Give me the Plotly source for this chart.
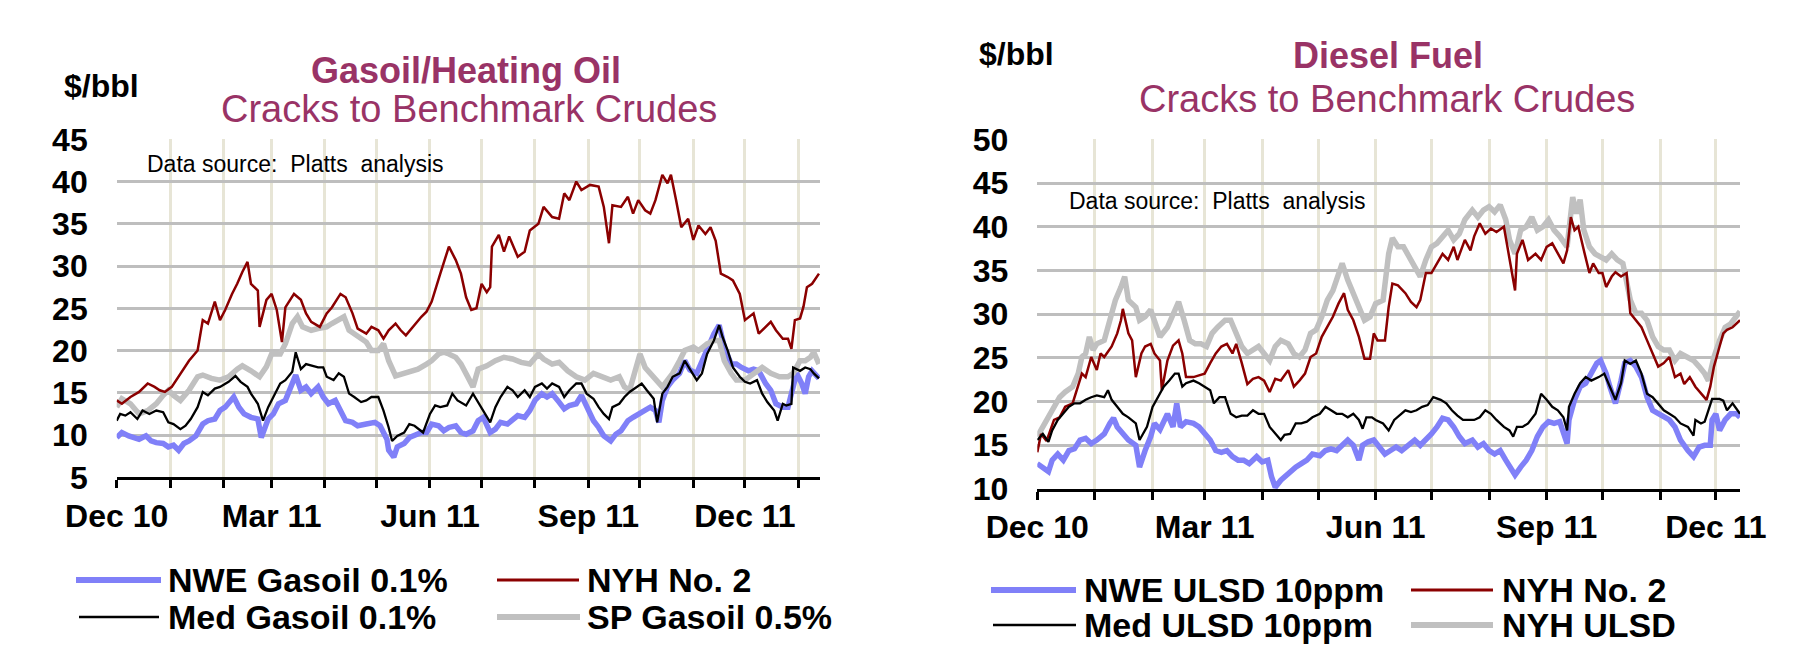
import pandas as pd
import plotly.graph_objects as go

# ---------------- DATA ----------------
START = "2010-12-01"
LEFT_END_DAY = 408.6
RIGHT_END_DAY = 378

LEFT_TITLE = "Gasoil/Heating Oil"
RIGHT_TITLE = "Diesel Fuel"
SUBTITLE = "Cracks to Benchmark Crudes"
UNIT = "$/bbl"
SOURCE = "Data source:\u00a0 Platts\u00a0 analysis"

left_names = ["NWE Gasoil 0.1%", "NYH No. 2", "Med Gasoil 0.1%", "SP Gasoil 0.5%"]
right_names = ["NWE ULSD 10ppm", "NYH No. 2", "Med ULSD 10ppm", "NYH ULSD"]

# Left chart (days since 1 Dec 2010, $/bbl)
gas_nyh2_day = [0,3,8,13,18,22,25,28,32,37,42,47,50,53,57,60,63,67,70,73,76,78,82,83,87,90,93,96,98,103,107,110,113,118,122,125,130,133,137,140,145,148,152,155,158,162,165,168,172,177,180,183,188,193,197,200,203,206,209,212,215,217,218,222,225,228,233,237,240,245,248,253,257,260,263,267,270,275,280,283,286,288,293,297,300,303,307,310,313,317,320,322,325,328,332,335,338,342,345,348,351,355,358,362,365,370,373,377,380,383,387,390,392,394,397,399,401,404,408]
gas_nyh2_val = [14.1,13.7,14.5,15.1,16.1,15.7,15.3,15.1,15.7,17.3,18.8,20.0,23.6,23.2,25.8,23.6,24.8,26.7,27.9,29.3,30.5,27.9,27.1,22.8,26.0,26.7,24.8,21.0,25.1,26.7,26.0,24.4,23.4,22.8,24.4,25.1,26.7,26.3,24.4,22.6,22.0,22.8,22.4,21.4,22.4,23.2,22.4,21.8,22.8,24.0,24.6,25.8,29.1,32.3,30.7,29.1,26.3,24.8,25.0,27.9,26.9,27.5,32.3,33.7,31.7,33.5,31.1,31.7,34.2,35.0,37.0,35.8,35.6,38.6,37.8,40.0,39.0,39.6,39.4,37.0,32.7,37.2,37.0,38.2,36.2,37.8,36.6,36.2,37.8,40.8,39.8,40.8,37.8,34.6,35.6,33.1,34.8,33.8,34.6,33.0,29.1,28.7,28.3,26.7,23.6,24.4,22.0,22.8,23.4,22.4,21.4,21.4,20.2,23.6,23.8,25.2,27.5,27.9,29.1]

gas_sp_day = [0,3,8,13,18,23,27,30,33,37,42,47,50,55,60,65,70,73,78,83,87,90,95,98,102,105,108,113,117,122,125,128,132,135,140,145,148,152,155,158,162,165,170,175,180,183,187,190,193,197,200,203,207,210,215,220,225,230,235,240,245,248,253,257,262,267,272,277,282,287,292,295,298,302,304,307,310,313,317,320,323,327,330,335,338,343,347,350,353,357,360,365,370,375,380,385,390,393,397,400,403,405,408]
gas_sp_val = [13.3,14.3,13.7,12.5,12.9,13.7,14.7,15.3,14.7,14.1,15.3,16.9,17.1,16.7,16.5,16.9,17.8,18.2,17.6,16.9,18.1,19.6,19.6,20.8,23.2,24.0,22.8,22.4,22.6,22.8,23.2,23.6,24.0,22.4,21.6,21.0,20.0,20.0,20.8,18.8,17.0,17.2,17.6,17.8,18.4,18.8,19.6,19.8,19.6,19.2,18.4,17.3,15.7,17.8,18.2,18.8,19.2,19.0,18.6,18.4,19.6,19.0,18.4,18.6,17.6,16.9,16.5,17.3,16.9,16.5,16.9,15.7,15.3,18.4,19.6,18.0,17.3,16.5,15.7,16.5,17.3,18.8,20.0,20.4,20.0,20.8,21.2,21.2,18.8,17.3,16.5,16.5,17.3,18.0,17.3,16.9,16.9,17.3,18.8,18.8,19.2,19.8,18.4]

gas_med_day = [0,2,5,8,12,15,19,23,27,30,33,37,40,43,47,50,53,57,60,65,69,72,76,78,82,85,88,91,95,98,102,104,107,110,113,117,120,122,126,129,132,135,138,142,145,148,152,155,158,160,163,167,170,173,178,182,185,188,192,195,198,203,207,210,213,217,220,223,227,230,233,237,240,243,247,250,253,257,260,263,267,270,273,277,280,283,286,288,292,295,298,302,305,308,312,314,317,320,323,327,330,333,337,340,343,347,350,352,355,358,362,365,368,372,375,378,382,384,387,389,392,393,397,400,403,405,408]
gas_med_val = [11.7,12.5,12.3,12.7,11.9,12.9,12.5,12.9,12.7,11.5,11.3,10.7,11.1,11.9,13.3,15.1,14.7,15.5,15.7,16.3,17.0,16.3,15.7,14.9,13.7,11.7,13.3,14.5,16.1,16.5,17.5,19.8,17.8,18.4,18.2,18.0,18.0,16.9,16.5,17.3,16.9,14.9,14.5,13.9,14.1,14.5,14.5,12.9,10.9,9.3,9.9,10.3,11.3,11.1,10.3,12.5,13.5,13.3,13.5,14.9,14.1,13.5,14.9,13.9,12.9,11.5,13.3,14.5,15.7,15.3,14.5,15.3,14.5,15.7,16.1,15.5,16.1,15.7,14.5,15.3,16.1,16.1,14.9,14.3,13.3,12.5,11.9,13.3,13.7,14.5,15.1,15.7,16.1,15.3,14.3,11.5,14.9,15.7,16.9,17.3,18.8,17.8,16.5,17.3,19.6,21.2,23.0,21.6,20.0,18.0,16.9,16.3,16.1,16.5,14.9,13.9,12.9,11.7,13.7,13.5,13.7,18.0,17.6,18.0,17.8,17.3,16.7]

gas_nwe_day = [0,3,7,10,13,17,20,23,27,30,33,36,39,42,46,50,53,57,60,63,67,68,71,74,78,82,84,88,91,94,98,101,104,107,110,113,117,120,123,127,130,133,137,140,145,150,153,157,158,161,163,167,170,173,177,180,183,187,190,193,197,200,203,207,210,213,217,220,223,227,230,233,237,240,243,247,250,253,257,260,263,267,270,273,277,280,283,287,290,293,297,300,303,307,310,313,315,317,320,323,327,330,333,337,340,343,347,350,353,357,360,363,367,370,373,377,380,383,387,390,392,395,398,400,402,404,408]
gas_nwe_val = [9.7,10.3,9.9,9.7,9.5,9.9,9.3,9.1,9.0,8.6,8.8,8.2,9.0,9.3,9.9,11.3,11.7,11.9,12.9,13.3,14.1,14.5,13.3,12.5,12.1,11.9,9.7,11.9,12.5,13.7,14.1,15.7,17.1,15.3,15.7,14.9,15.7,14.5,13.7,14.1,12.9,11.7,11.5,11.1,11.3,11.5,11.1,9.5,8.2,7.4,8.6,9.0,9.7,9.9,10.3,10.3,11.3,11.1,10.5,10.9,11.1,10.3,10.1,10.5,11.7,12.1,10.3,10.7,11.5,11.3,11.9,12.3,12.1,12.9,14.1,14.9,14.5,14.9,13.9,13.1,13.5,13.7,14.7,13.3,11.7,10.9,9.9,9.3,10.1,10.5,11.7,12.1,12.5,12.9,13.3,12.9,11.5,14.1,15.7,16.5,17.3,18.8,17.7,17.3,18.8,20.4,22.0,23.0,20.4,18.4,18.4,18.0,17.6,17.8,17.6,16.1,15.3,13.7,13.3,13.3,14.9,17.3,16.1,14.9,16.9,17.6,16.7]

# Right chart (days since 1 Dec 2010, $/bbl)
dsl_nyh2_day = [0,2,5,7,9,12,15,19,22,24,26,29,32,34,36,40,43,45,46,49,51,53,56,58,61,63,66,67,70,73,76,78,80,84,87,90,93,96,99,102,105,107,110,113,116,119,122,125,128,131,135,138,141,144,147,150,153,156,159,162,165,167,170,173,176,179,181,183,187,189,191,194,198,201,204,206,209,212,215,218,221,224,226,230,233,235,238,241,244,247,251,253,255,257,258,261,264,268,271,274,277,280,283,285,287,289,291,294,297,299,302,304,306,309,311,314,317,319,322,325,328,331,334,337,340,343,346,348,351,354,357,360,362,364,367,369,371,374,378]
dsl_nyh2_val = [14.2,16.3,15.5,16.7,17.9,18.2,19.4,19.8,21.7,23.2,22.8,25.1,23.6,25.5,25.1,26.3,27.8,29.3,30.6,27.8,27.0,22.8,25.5,26.3,26.6,25.5,24.7,21.3,24.7,26.4,27.0,25.5,22.8,22.8,23.0,23.2,24.4,25.5,26.3,26.6,25.5,26.6,24.4,22.0,22.6,22.8,22.4,21.1,22.6,22.4,23.6,21.7,22.4,23.2,25.1,25.5,27.4,28.5,29.7,31.2,32.4,30.5,29.3,27.4,24.9,24.9,27.8,27.0,27.0,30.8,33.5,33.3,32.4,31.4,30.8,31.6,34.7,34.7,35.8,36.9,36.2,37.7,36.2,38.5,37.3,38.9,40.4,39.2,39.8,39.4,40.0,37.7,35.0,32.7,36.9,38.5,36.2,36.9,36.2,37.7,38.1,36.9,35.8,37.3,41.1,39.6,40.0,37.3,34.7,35.8,34.7,34.7,33.1,34.3,34.8,34.3,34.7,30.1,29.3,28.5,27.0,25.5,24.0,24.4,25.1,22.8,23.2,22.0,22.8,21.7,20.9,20.2,21.7,24.0,26.3,27.8,28.2,28.5,29.3]

dsl_ulsd_day = [0,3,6,9,12,15,19,22,24,26,28,30,32,36,39,42,45,47,49,53,55,58,61,64,66,70,73,76,79,82,85,88,91,94,97,101,104,107,110,113,116,119,122,125,128,131,135,138,141,144,147,150,153,156,159,162,164,167,170,173,176,179,182,186,189,191,194,197,200,203,206,209,212,215,218,221,224,227,230,234,237,240,243,246,249,252,254,257,260,263,266,269,272,275,278,281,285,288,290,292,294,297,300,303,306,309,312,315,319,322,325,328,331,334,337,340,343,346,349,353,356,359,361,364,367,370,373,376,378]
dsl_ulsd_val = [16.0,17.1,18.2,19.4,20.5,21.1,21.7,23.2,25.1,25.5,27.4,25.9,26.6,27.0,29.3,31.6,33.1,34.3,31.6,30.8,29.3,29.7,30.5,28.5,27.4,28.5,30.1,31.4,29.3,27.0,26.6,26.6,26.3,27.8,28.5,29.3,29.3,27.8,26.3,25.5,25.9,26.3,25.5,24.7,26.3,27.0,26.6,25.5,25.1,25.9,27.8,28.2,29.7,31.6,32.7,34.7,35.8,33.9,32.4,30.8,29.3,29.7,31.2,31.6,36.9,38.7,37.7,37.7,36.6,35.4,34.3,36.2,37.7,38.1,38.9,39.6,38.5,39.2,40.8,41.9,41.1,41.9,42.3,41.7,42.5,40.8,38.5,36.9,39.6,40.0,41.1,39.6,40.0,40.8,39.6,38.9,37.7,43.4,41.5,43.1,39.6,37.7,36.9,36.6,36.2,36.9,36.2,35.8,31.6,30.1,30.1,29.3,27.4,26.3,25.9,25.9,24.7,25.5,25.1,24.7,24.0,23.2,22.4,25.1,27.0,28.5,28.9,29.7,30.3]

dsl_med_day = [0,3,6,8,11,14,17,20,23,26,29,32,36,38,40,43,46,49,53,55,57,59,62,65,68,71,74,76,78,80,84,87,90,93,95,98,101,104,107,110,113,116,119,122,125,128,131,133,136,139,142,145,148,152,155,158,161,164,167,170,173,175,177,180,182,186,189,192,195,198,201,204,207,210,213,217,220,223,226,229,232,235,238,241,244,247,251,254,256,258,261,264,268,271,274,277,280,283,285,286,289,292,295,298,302,305,308,311,314,316,319,322,325,328,331,334,337,340,343,346,350,353,354,357,359,361,363,367,369,371,374,378]
dsl_med_val = [15.6,16.3,15.4,16.7,17.9,18.6,19.4,19.8,19.8,20.2,20.5,20.7,20.5,21.3,20.2,19.4,18.6,18.2,17.5,15.6,16.3,17.1,19.4,20.5,21.7,22.4,23.2,23.2,21.7,22.1,22.4,22.1,21.7,21.3,19.8,20.5,20.5,18.6,18.2,18.4,18.4,19.0,18.6,18.6,17.1,16.3,15.6,16.2,16.3,17.5,17.5,17.7,18.2,18.6,19.4,19.0,18.6,18.6,18.2,18.6,17.9,16.9,18.2,18.2,17.9,17.5,16.7,17.9,18.4,19.0,18.8,19.0,19.4,19.6,20.5,20.2,19.8,19.0,18.4,17.9,17.9,17.9,18.2,19.0,18.6,17.9,17.1,16.7,16.0,17.1,17.1,17.5,18.6,20.9,20.2,19.4,19.0,18.2,16.7,19.4,20.9,22.1,22.8,22.4,22.8,23.2,21.7,20.2,22.1,24.7,24.3,24.7,23.2,20.9,20.5,19.8,19.0,18.6,18.2,17.5,17.1,16.1,17.9,17.5,17.7,19.0,20.3,20.3,20.1,19.0,19.8,18.6]

dsl_nwe_day = [0,3,6,8,11,14,17,20,23,26,29,32,36,39,41,43,46,49,53,55,58,61,63,66,70,73,75,77,80,84,87,90,93,96,99,102,105,108,111,114,118,121,124,126,128,131,133,136,139,142,145,148,152,155,158,161,164,167,170,173,175,178,181,184,187,190,193,196,200,203,206,209,212,215,218,221,224,227,230,234,237,240,243,246,249,252,255,257,260,263,266,269,272,275,278,281,285,286,289,292,295,298,301,303,306,308,311,314,316,319,322,325,328,331,334,337,340,343,346,350,353,356,359,362,363,365,367,370,373,376,378]
dsl_nwe_val = [12.9,12.5,12.0,13.3,14.0,13.3,14.4,14.6,15.6,15.8,15.2,15.6,16.3,17.5,18.1,17.1,16.3,15.6,15.0,12.5,14.4,16.0,17.5,16.8,18.6,17.1,19.8,17.1,17.7,17.5,17.1,16.3,15.6,14.4,14.2,14.4,13.7,13.3,13.3,12.9,13.7,13.1,13.3,11.4,10.2,11.0,11.4,11.8,12.5,12.9,13.3,14.0,13.8,14.4,14.6,14.4,15.0,15.6,15.0,13.3,15.0,15.4,15.6,14.8,14.0,14.4,14.8,14.4,15.2,15.6,15.0,15.6,16.3,17.1,18.1,17.9,17.1,16.0,15.2,15.6,14.8,15.2,14.4,14.0,14.4,13.3,12.1,11.6,12.5,13.3,14.4,16.0,17.1,17.7,17.5,17.7,15.2,17.9,20.2,21.7,22.1,23.2,24.4,24.7,23.2,21.7,19.8,22.4,24.4,24.7,24.0,22.8,20.5,19.0,18.6,18.2,17.9,17.1,15.6,14.4,13.7,14.8,15.0,15.0,17.9,18.6,16.7,17.9,18.6,18.6,18.2]

# ---------------- STYLE ----------------
FONT = "Liberation Sans, Arial, sans-serif"
TITLE_COLOR = "#993366"
BLUE, RED, BLACK, GRAY = "#8080F8", "#8B0000", "#000000", "#C0C0C0"
HGRID, VGRID = "#BEBEBE", "#E7E5D6"
W, H = 1802, 650


def px(x):
    return x / W


def py(y):
    return 1 - y / H


def to_dates(days):
    return pd.Timestamp(START) + pd.to_timedelta(days, unit="D")


series_left = [
    (gas_nwe_day, gas_nwe_val, left_names[0], BLUE, 5.5),
    (gas_sp_day, gas_sp_val, left_names[3], GRAY, 5.5),
    (gas_nyh2_day, gas_nyh2_val, left_names[1], RED, 2.5),
    (gas_med_day, gas_med_val, left_names[2], BLACK, 2.3),
]
series_right = [
    (dsl_nwe_day, dsl_nwe_val, right_names[0], BLUE, 5.5),
    (dsl_ulsd_day, dsl_ulsd_val, right_names[3], GRAY, 5.5),
    (dsl_nyh2_day, dsl_nyh2_val, right_names[1], RED, 2.5),
    (dsl_med_day, dsl_med_val, right_names[2], BLACK, 2.3),
]

fig = go.Figure()
for xs, ys, nm, col, wd in series_left:
    assert len(xs) == len(ys), (nm, len(xs), len(ys))
    fig.add_trace(go.Scatter(x=to_dates(xs), y=ys, name=nm, mode="lines",
                             line=dict(color=col, width=wd), xaxis="x", yaxis="y",
                             showlegend=False))
for xs, ys, nm, col, wd in series_right:
    assert len(xs) == len(ys), (nm, len(xs), len(ys))
    fig.add_trace(go.Scatter(x=to_dates(xs), y=ys, name=nm, mode="lines",
                             line=dict(color=col, width=wd), xaxis="x2", yaxis="y2",
                             showlegend=False))


def xaxis_cfg(domain, end_day, anchor):
    return dict(
        domain=domain, anchor=anchor, type="date", automargin=False,
        range=[to_dates([0])[0], to_dates([end_day])[0]],
        tick0=START, dtick="M3", tickformat="%b %y",
        ticks="outside", ticklen=8, tickwidth=3, tickcolor="black",
        showline=True, linecolor="black", linewidth=3,
        showgrid=True, gridcolor=VGRID, gridwidth=2.5, zeroline=False,
        minor=dict(tick0=START, dtick="M1", ticks="outside", ticklen=8, tickwidth=3,
                   tickcolor="black", showgrid=True, gridcolor=VGRID, gridwidth=2.5),
        tickfont=dict(family=FONT, size=32, color="black", weight="bold"),
        ticklabelstandoff=0, fixedrange=True,
    )


def yaxis_cfg(domain, rng, anchor):
    return dict(
        domain=domain, anchor=anchor, range=rng, tick0=rng[0], dtick=5, automargin=False,
        showgrid=True, gridcolor=HGRID, gridwidth=3, zeroline=False, showline=False,
        ticks="", tickfont=dict(family=FONT, size=32, color="black", weight="bold"),
        ticklabelstandoff=28, fixedrange=True,
    )


annotations = []
shapes = []


def text(x, y, s, size, bold=False, color="black", xanchor="center"):
    annotations.append(dict(
        x=px(x), y=py(y), xref="paper", yref="paper", text=s, showarrow=False,
        xanchor=xanchor, yanchor="middle",
        font=dict(family=FONT, size=size, color=color, weight="bold" if bold else "normal")))


# Left chart headings
text(101, 86, UNIT, 32, bold=True)
text(466, 70, LEFT_TITLE, 36, bold=True, color=TITLE_COLOR)
text(469, 109, SUBTITLE, 38, color=TITLE_COLOR)
text(145, 164, SOURCE, 23, xanchor="left")
# Right chart headings
text(1017, 54, UNIT, 32, bold=True)
text(1388, 55, RIGHT_TITLE, 36, bold=True, color=TITLE_COLOR)
text(1387, 99, SUBTITLE, 38, color=TITLE_COLOR)
text(1067, 201, SOURCE, 23, xanchor="left")


def legend_entry(x0, x1, xt, y, name, color, width):
    shapes.append(dict(type="line", xref="paper", yref="paper",
                       x0=px(x0), x1=px(x1), y0=py(y), y1=py(y),
                       line=dict(color=color, width=width)))
    text(xt, y, name, 34, bold=True, xanchor="left")


legend_entry(76, 161, 166, 580, left_names[0], BLUE, 6)
legend_entry(497, 579, 585, 580, left_names[1], RED, 3)
legend_entry(79, 159, 166, 617, left_names[2], BLACK, 2.5)
legend_entry(497, 580, 585, 617, left_names[3], GRAY, 6)

legend_entry(991, 1076, 1082, 590, right_names[0], BLUE, 6)
legend_entry(1411, 1493, 1500, 590, right_names[1], RED, 3)
legend_entry(993, 1076, 1082, 625, right_names[2], BLACK, 2.5)
legend_entry(1411, 1493, 1500, 625, right_names[3], GRAY, 6)

fig.update_layout(
    width=W, height=H, margin=dict(l=0, r=0, t=0, b=0, autoexpand=False),
    paper_bgcolor="white", plot_bgcolor="white", showlegend=False,
    xaxis=xaxis_cfg([px(116.7), px(820)], LEFT_END_DAY, "y"),
    yaxis=yaxis_cfg([py(477.3), py(139.3)], [5, 45], "x"),
    xaxis2=xaxis_cfg([px(1037.3), px(1740)], RIGHT_END_DAY, "y2"),
    yaxis2=yaxis_cfg([py(489), py(139.3)], [10, 50], "x2"),
    annotations=annotations, shapes=shapes,
)

fig.write_html("out.html")
